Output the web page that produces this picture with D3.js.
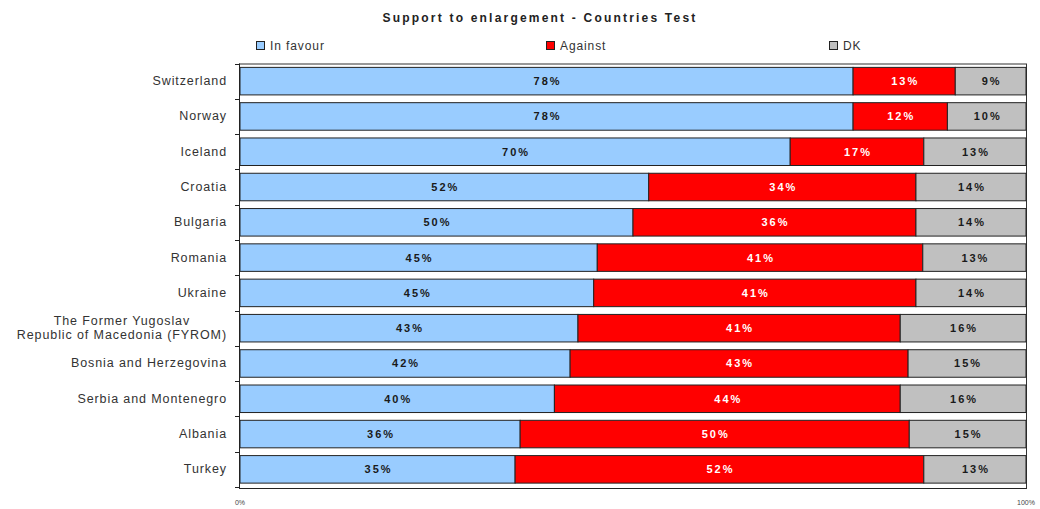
<!DOCTYPE html>
<html>
<head>
<meta charset="utf-8">
<script src="https://cdn.jsdelivr.net/npm/d3@7"></script>
<style>
    body { margin: 0; background: #fff; }
    text { font-family: "Liberation Sans", Arial, sans-serif; }
</style>
</head>
<body>
<div id="chart"></div>
<script>
var countries = ['Switzerland', 'Norway', 'Iceland', 'Croatia', 'Bulgaria', 'Romania', 'Ukraine',
    'The Former Yugoslav|Republic of Macedonia (FYROM)', 'Bosnia and Herzegovina',
    'Serbia and Montenegro', 'Albania', 'Turkey'];
var inFavour = [78, 78, 70, 52, 50, 45, 45, 43, 42, 40, 36, 35];
var against = [13, 12, 17, 34, 36, 41, 41, 41, 43, 44, 50, 52];
var dk = [9, 10, 13, 14, 14, 13, 14, 16, 15, 16, 15, 13];
var seriesNames = ['In favour', 'Against', 'DK'];
var xTickLabels = ['0%', '100%'];

var width = 1040,
    height = 509;

var margin = {
    top: 63.5,
    right: 14,
    bottom: 22,
    left: 240
};

var colors = ['#99ccff', '#ff0000', '#c0c0c0'];
var labelColors = ['#1a1a1a', '#ffffff', '#1a1a1a'];
var keys = ['fav', 'ag', 'dk'];

var rows = countries.map(function (c, i) {
    return { name: c, fav: inFavour[i], ag: against[i], dk: dk[i] };
});

var svg = d3.select('#chart').append('svg')
    .attr('width', width)
    .attr('height', height);

var x = d3.scaleLinear()
    .domain([0, 1])
    .range([margin.left, width - margin.right]);

var y = d3.scaleBand()
    .domain(countries)
    .range([margin.top, height - margin.bottom])
    .paddingInner(0.22)
    .paddingOuter(0.11);

// rows in the source don't always add to 100, so expand to full width
var stacked = d3.stack()
    .keys(keys)
    .offset(d3.stackOffsetExpand)(rows);

// title
svg.append('text')
    .attr('x', 540)
    .attr('y', 22)
    .attr('text-anchor', 'middle')
    .style('font-size', '12px')
    .style('font-weight', 'bold')
    .style('letter-spacing', '2.2px')
    .style('fill', '#222')
    .text('Support to enlargement - Countries Test');

// legend
var legendX = [256, 546, 829];
var legend = svg.selectAll('.legend')
    .data(seriesNames)
    .enter().append('g')
    .attr('class', 'legend')
    .attr('transform', function (d, i) { return 'translate(' + legendX[i] + ',41)'; });

legend.append('rect')
    .attr('width', 8)
    .attr('height', 8)
    .attr('x', 0.5)
    .attr('y', 0.5)
    .style('fill', function (d, i) { return colors[i]; })
    .style('stroke', '#222')
    .style('stroke-width', 1);

legend.append('text')
    .attr('x', 14)
    .attr('y', 8.5)
    .style('font-size', '12px')
    .style('letter-spacing', '0.9px')
    .style('fill', '#333')
    .text(function (d) { return d; });

// frame
var plotBottom = height - margin.bottom + 1.5;
svg.append('rect')
    .attr('x', margin.left - 0.5)
    .attr('y', margin.top + 0.5)
    .attr('width', width - margin.right - margin.left + 1)
    .attr('height', plotBottom - margin.top - 0.5)
    .style('fill', 'none')
    .style('stroke', '#333')
    .style('stroke-width', 1);

// bars
var layer = svg.selectAll('.layer')
    .data(stacked)
    .enter().append('g')
    .attr('class', 'layer');

layer.selectAll('rect')
    .data(function (d, i) { return d.map(function (p) { return { p: p, i: i }; }); })
    .enter().append('rect')
    .attr('x', function (d) { return x(d.p[0]); })
    .attr('y', function (d) { return y(d.p.data.name); })
    .attr('width', function (d) { return x(d.p[1]) - x(d.p[0]); })
    .attr('height', y.bandwidth())
    .style('fill', function (d) { return colors[d.i]; })
    .style('stroke', '#222')
    .style('stroke-width', 1);

layer.selectAll('text')
    .data(function (d, i) { return d.map(function (p) { return { p: p, i: i, key: d.key }; }); })
    .enter().append('text')
    .attr('x', function (d) { return (x(d.p[0]) + x(d.p[1])) / 2 + 1; })
    .attr('y', function (d) { return y(d.p.data.name) + y.bandwidth() / 2 + 4; })
    .attr('text-anchor', 'middle')
    .style('font-size', '11px')
    .style('font-weight', 'bold')
    .style('letter-spacing', '2px')
    .style('fill', function (d) { return labelColors[d.i]; })
    .text(function (d) { return d.p.data[d.key] + '%'; });

// category axis
svg.append('line')
    .attr('x1', margin.left - 0.5)
    .attr('x2', margin.left - 0.5)
    .attr('y1', margin.top)
    .attr('y2', plotBottom)
    .style('stroke', '#222');

var tickY = d3.range(countries.length + 1).map(function (i) {
    return margin.top + i * (height - margin.bottom - margin.top) / countries.length;
});
svg.selectAll('.ytick')
    .data(tickY)
    .enter().append('line')
    .attr('class', 'ytick')
    .attr('x1', margin.left - 5)
    .attr('x2', margin.left)
    .attr('y1', function (d) { return Math.round(d) + 0.5; })
    .attr('y2', function (d) { return Math.round(d) + 0.5; })
    .style('stroke', '#222');

var labelRight = 227;
var catLabel = svg.selectAll('.cat')
    .data(countries)
    .enter().append('text')
    .attr('class', 'cat')
    .style('font-size', '12.5px')
    .style('letter-spacing', '0.9px')
    .style('fill', '#333');

// multi-line labels are centred on their widest line, which is right aligned
catLabel.each(function (d) {
    var parts = d.split('|');
    var cy = y(d) + y.bandwidth() / 2;
    var t = d3.select(this);
    var spans = parts.map(function (p, k) {
        return t.append('tspan')
            .attr('y', cy + 4 + (k - (parts.length - 1) / 2) * 14)
            .text(p);
    });
    if (parts.length == 1) {
        t.attr('text-anchor', 'end');
        spans[0].attr('x', labelRight);
        return;
    }
    var widest = d3.max(spans, function (s) { return s.node().getComputedTextLength(); });
    t.attr('text-anchor', 'middle');
    spans.forEach(function (s) { s.attr('x', labelRight - widest / 2); });
});

// value axis
svg.append('line')
    .attr('x1', margin.left - 0.5)
    .attr('x2', width - margin.right + 0.5)
    .attr('y1', plotBottom)
    .attr('y2', plotBottom)
    .style('stroke', '#222');

svg.selectAll('.xlab')
    .data(xTickLabels)
    .enter().append('text')
    .attr('class', 'xlab')
    .attr('x', function (d, i) { return x(i); })
    .attr('y', 505)
    .attr('text-anchor', 'middle')
    .style('font-size', '7px')
    .style('fill', '#444')
    .text(function (d) { return d; });
</script>
</body>
</html>
